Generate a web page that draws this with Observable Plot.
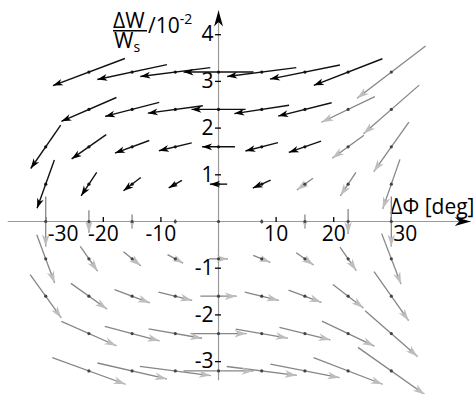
<!DOCTYPE html>
<html>
<head>
<meta charset="utf-8">
<script src="https://cdn.jsdelivr.net/npm/d3@7"></script>
<script src="https://cdn.jsdelivr.net/npm/@observablehq/plot@0.6"></script>
<style>
  html, body { margin: 0; padding: 0; background: #fff; }
  svg { display: block; }
</style>
</head>
<body>
<div id="chart"></div>
<script>
// Grid of phase deviation (deg) and relative energy deviation (1e-2)
const phiGrid = [-30, -22.5, -15, -7.5, 0, 7.5, 15, 22.5, 30];
const wGrid = [3.2, 2.4, 1.6, 0.8, 0, -0.8, -1.6, -2.4, -3.2];

// Flow components at each grid node (rows follow wGrid, columns follow phiGrid);
// null marks nodes outside the computed region.
const dPhi = [
  [null, -12.5, -12.1, -12.15, -12.15, -12.0, -12.15, -11.9, -11.9],
  [null, -9.55, -9.4, -9.55, -9.4, -9.5, -9.27, -9.27, -9.67],
  [-5.2, -6.0, -5.96, -5.7, -5.7, -5.66, -5.6, -5.5, -6.1],
  [-3.0, -2.7, -3.0, -2.3, -3.0, -3.1, -2.8, -2.7, -3.0],
  [0, 0, 0, 0, 0, 0, 0, 0, 0],
  [3.1, 3.0, 3.0, 2.7, 3.3, 2.95, 3.0, 2.83, 3.35],
  [5.4, 6.25, 6.1, 5.85, 6.3, 5.9, 5.7, 5.3, 6.0],
  [null, 9.55, 9.5, 9.27, 9.7, 9.0, 8.85, 9.1, 9.1],
  [null, 12.7, 12.05, 12.3, 12.15, 12.15, 12.0, 12.0, 11.6]
];
const dW = [
  [null, -0.58, -0.32, -0.19, 0, -0.19, -0.3, -0.57, -1.12],
  [null, -0.51, -0.3, -0.16, 0, -0.18, -0.285, -0.55, -1.04],
  [-0.93, -0.52, -0.27, -0.17, 0, -0.18, -0.24, -0.49, -1.06],
  [-1.03, -0.5, -0.285, -0.16, 0, -0.17, -0.25, -0.5, -1.06],
  [-1.07, -0.48, -0.3, -0.1, 0, -0.1, -0.3, -0.54, -1.07],
  [-1.03, -0.53, -0.3, -0.18, 0, -0.15, -0.26, -0.5, -1.08],
  [-0.93, -0.55, -0.285, -0.18, 0, -0.18, -0.26, -0.5, -1.05],
  [null, -0.52, -0.31, -0.2, 0, -0.19, -0.27, -0.535, -0.98],
  [null, -0.57, -0.34, -0.2, 0, -0.19, -0.29, -0.57, -1.01]
];
// 1 = captured (black) trajectories, 0 = free (grey) trajectories
const captured = [
  [0, 1, 1, 1, 1, 1, 1, 1, 0],
  [0, 1, 1, 1, 1, 1, 1, 0, 0],
  [1, 1, 1, 1, 1, 1, 1, 0, 0],
  [1, 1, 1, 1, 1, 1, 0, 0, 0],
  [0, 0, 0, 0, 0, 0, 0, 0, 0],
  [0, 0, 0, 0, 0, 0, 0, 0, 0],
  [0, 0, 0, 0, 0, 0, 0, 0, 0],
  [0, 0, 0, 0, 0, 0, 0, 0, 0],
  [0, 0, 0, 0, 0, 0, 0, 0, 0]
];

const phiTicks = [-30, -20, -10, 10, 20, 30];
const wTicks = [-3, -2, -1, 1, 2, 3, 4];

// Assemble node records
const nodes = [];
wGrid.forEach((w, r) => phiGrid.forEach((phi, c) => {
  if (dPhi[r][c] === null) return;
  nodes.push({phi, w, u: dPhi[r][c], v: dW[r][c], black: captured[r][c] === 1});
}));
const vecs = nodes.filter(d => d.u !== 0 || d.v !== 0);

// Layout
const W = 474, H = 394;
const xDomain = [-37.85, 44.44];
const yDomain = [-3.7045, 4.7323];
const xAxisSpan = [-36.6, 43.8];
const yAxisSpan = [-3.4, 4.52];
const font = "'Open Sans', 'DejaVu Sans', sans-serif";

// Render hook: draws a barbed, filled arrowhead at the (x2, y2) end of each link
function withHeads(fill, len, half) {
  return function (index, scales, values, dims, context, next) {
    const g = next(index, scales, values, dims, context);
    const {x1: X1, y1: Y1, x2: X2, y2: Y2} = values;
    const sel = d3.select(g);
    for (const i of index) {
      const dx = X2[i] - X1[i], dy = Y2[i] - Y1[i];
      const L = Math.hypot(dx, dy);
      if (!L) continue;
      const ux = dx / L, uy = dy / L, nx = -uy, ny = ux;
      const hl = Math.min(len, L * 0.6), hw = half * hl / len;
      const tx = X2[i], ty = Y2[i];
      const bx = tx - ux * hl, by = ty - uy * hl;
      const cx = tx - ux * hl * 0.72, cy = ty - uy * hl * 0.72;
      sel.append("path")
        .attr("d", `M${tx},${ty}L${bx + nx * hw},${by + ny * hw}L${cx},${cy}L${bx - nx * hw},${by - ny * hw}Z`)
        .attr("fill", fill)
        .attr("stroke", "none");
    }
    return g;
  };
}

const seg = {
  x1: d => d.phi - d.u / 2, y1: d => d.w - d.v / 2,
  x2: d => d.phi + d.u / 2, y2: d => d.w + d.v / 2
};

const chart = Plot.plot({
  width: W,
  height: H,
  margin: 0,
  style: {fontFamily: font, background: "#fff"},
  x: {domain: xDomain, axis: null},
  y: {domain: yDomain, axis: null},
  marks: [
    // axes
    Plot.link([{a: 0}], {
      x1: xAxisSpan[0], x2: xAxisSpan[1], y1: 0, y2: 0,
      stroke: "#9a9a9a", strokeWidth: 1.2,
      render: withHeads("#000", 16, 4.5)
    }),
    Plot.link([{a: 0}], {
      x1: 0, x2: 0, y1: yAxisSpan[0], y2: yAxisSpan[1],
      stroke: "#9a9a9a", strokeWidth: 1.2,
      render: withHeads("#000", 16, 4.5)
    }),
    Plot.ruleX(phiTicks, {x: d => d, y1: 0, y2: 0, insetTop: -4, insetBottom: -1, stroke: "#000", strokeWidth: 1.3}),
    Plot.ruleY(wTicks, {y: d => d, x1: 0, x2: 0, insetLeft: -3, insetRight: -3, stroke: "#000", strokeWidth: 1.3}),
    Plot.text(phiTicks.filter(d => Math.abs(d) < 30), {
      x: d => d, y: 0, text: d => String(d), lineAnchor: "top", dy: 5,
      fontSize: 21, fill: "#000"
    }),
    Plot.text(phiTicks.filter(d => Math.abs(d) >= 30), {
      x: d => d, y: 0, text: d => String(d), lineAnchor: "top", dy: 5, dx: 2,
      textAnchor: "start", fontSize: 21, fill: "#000"
    }),
    Plot.text(wTicks, {
      x: 0, y: d => d, text: d => String(d), textAnchor: "end", dx: -5,
      fontSize: 21, fill: "#000"
    }),
    Plot.text(["ΔΦ [deg]"], {
      x: xDomain[1], y: 0, text: d => d, textAnchor: "end", lineAnchor: "bottom", dy: -7,
      fontSize: 21, fill: "#000"
    }),
    // flow vectors
    Plot.link(vecs.filter(d => !d.black), {
      ...seg, stroke: "#868686", strokeWidth: 1.3,
      render: withHeads("#bdbdbd", 12, 3.8)
    }),
    Plot.link(vecs.filter(d => d.black), {
      ...seg, stroke: "#111", strokeWidth: 1.4,
      render: withHeads("#000", 10, 3.4)
    }),
    Plot.dot(nodes, {x: "phi", y: "w", r: 1.6, fill: d => d.black ? "#111" : "#444", stroke: "none"})
  ]
});

// Vertical axis title: ΔW / W_s over 10^-2
const svg = d3.select(chart);
const title = svg.append("g")
  .attr("font-family", font)
  .attr("text-anchor", "start")
  .attr("fill", "#000");
title.append("text").attr("x", 113).attr("y", 28).attr("font-size", 21).text("ΔW");
title.append("line").attr("x1", 113).attr("x2", 147).attr("y1", 30.8).attr("y2", 30.8)
  .attr("stroke", "#000").attr("stroke-width", 1.4);
const den = title.append("text").attr("x", 114).attr("y", 48).attr("font-size", 21);
den.append("tspan").text("W");
den.append("tspan").attr("font-size", 14).attr("dy", 4).text("s");
const pow = title.append("text").attr("x", 148).attr("y", 33).attr("font-size", 21);
pow.append("tspan").text("/10");
pow.append("tspan").attr("font-size", 14).attr("dy", -9).text("-2");

document.getElementById("chart").append(chart);
</script>
</body>
</html>
